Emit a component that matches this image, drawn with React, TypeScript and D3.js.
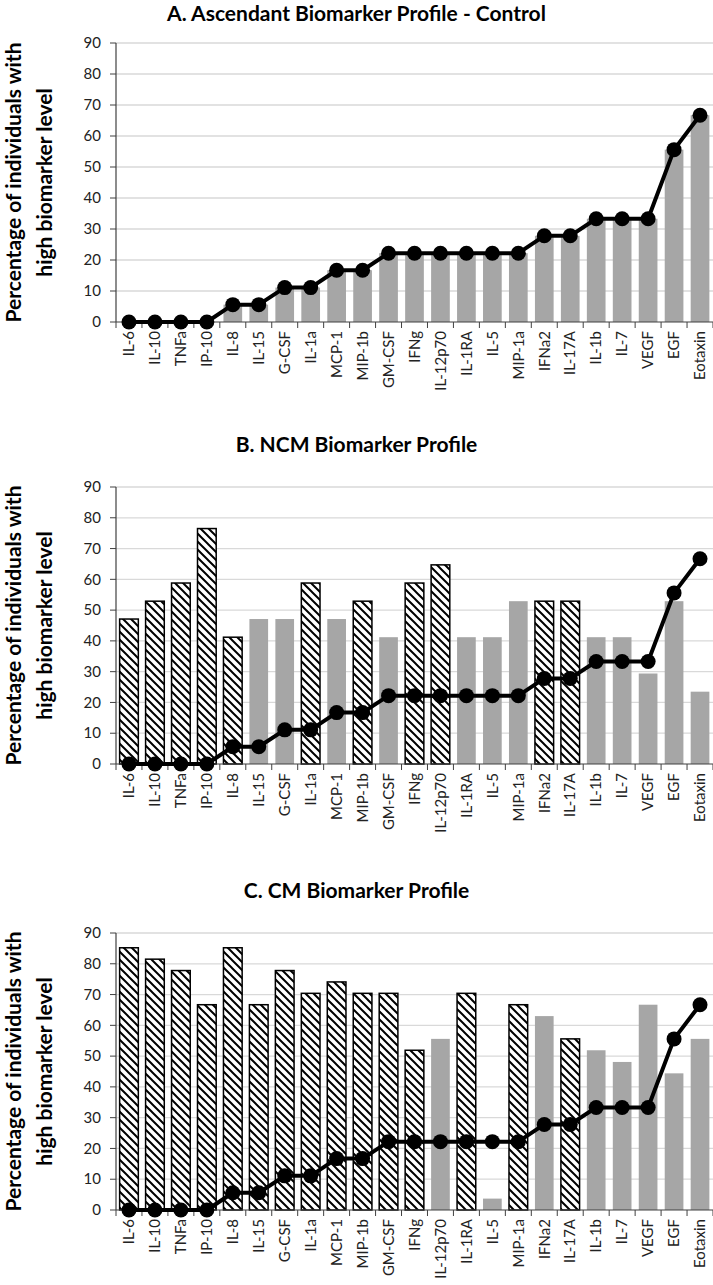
import React from "react";
import * as d3 from "d3";

const categories = ["IL-6","IL-10","TNFa","IP-10","IL-8","IL-15","G-CSF","IL-1a","MCP-1","MIP-1b","GM-CSF","IFNg","IL-12p70","IL-1RA","IL-5","MIP-1a","IFNa2","IL-17A","IL-1b","IL-7","VEGF","EGF","Eotaxin"];
const controlValues = [0,0,0,0,5.6,5.6,11.1,11.1,16.7,16.7,22.2,22.2,22.2,22.2,22.2,22.2,27.8,27.8,33.3,33.3,33.3,55.6,66.7];
const ncmValues = [47.1,52.9,58.8,76.5,41.2,47.1,47.1,58.8,47.1,52.9,41.2,58.8,64.7,41.2,41.2,52.9,52.9,52.9,41.2,41.2,29.4,52.9,23.5];
const ncmHatched = ["IL-6","IL-10","TNFa","IP-10","IL-8","IL-1a","MIP-1b","IFNg","IL-12p70","IFNa2","IL-17A"];
const cmValues = [85.2,81.5,77.8,66.7,85.2,66.7,77.8,70.4,74.1,70.4,70.4,51.9,55.6,70.4,3.7,66.7,63.0,55.6,51.9,48.1,66.7,44.4,55.6];
const cmHatched = ["IL-6","IL-10","TNFa","IP-10","IL-8","IL-15","G-CSF","IL-1a","MCP-1","MIP-1b","GM-CSF","IFNg","IL-1RA","MIP-1a","IL-17A"];
const yTicks = [0,10,20,30,40,50,60,70,80,90];
const titles = ["A. Ascendant Biomarker Profile - Control","B. NCM Biomarker Profile","C. CM Biomarker Profile"];
const yTitleLines = ["Percentage of individuals with","high biomarker level"];

const W = 713, H = 1285;
const panels = [
  { title: titles[0], values: controlValues, hatched: [] as string[], top: 43, bottom: 322, titleY: 21 },
  { title: titles[1], values: ncmValues, hatched: ncmHatched, top: 487, bottom: 764, titleY: 452 },
  { title: titles[2], values: cmValues, hatched: cmHatched, top: 933, bottom: 1210, titleY: 898 },
];

const FONT = "Lato, 'Open Sans', sans-serif";

function Panel({ p }: { p: typeof panels[0] }) {
  const x = d3.scaleBand<string>().domain(categories).range([116, 713]).paddingInner(0.28).paddingOuter(0.14);
  const y = d3.scaleLinear().domain([0, 90]).range([p.bottom, p.top]);
  const step = x.step();
  const xStart = 116;
  const cx = (c: string) => (x(c) as number) + x.bandwidth() / 2;
  const line = d3.line<number>().x((_, i) => cx(categories[i])).y((v) => y(v));
  const midY = (p.top + p.bottom) / 2;
  return (
    <g>
      <text x={W / 2} y={p.titleY} textAnchor="middle" fontFamily={FONT} fontWeight="bold" fontSize={21} fill="#000">{p.title}</text>
      {yTicks.filter((t) => t > 0).map((t) => (
        <line key={t} x1={xStart} x2={W} y1={y(t)} y2={y(t)} stroke="#d9d9d9" strokeWidth={1.3} />
      ))}
      {yTicks.map((t) => (
        <g key={"yt" + t}>
          <line x1={xStart - 6} x2={xStart} y1={y(t)} y2={y(t)} stroke="#404040" strokeWidth={1} />
          <text x={xStart - 15} y={y(t)} dy="0.35em" textAnchor="end" fontFamily={FONT} fontSize={15} fill="#222">{t}</text>
        </g>
      ))}
      {yTitleLines.map((s, i) => (
        <text key={s} transform={`translate(${i === 0 ? 21 : 52},${midY}) rotate(-90)`} textAnchor="middle" fontFamily={FONT} fontWeight="bold" fontSize={21} fill="#000">{s}</text>
      ))}
      {categories.map((c, i) => {
        const v = p.values[i];
        if (v <= 0) return null;
        const hatched = p.hatched.includes(c);
        return (
          <rect key={c} x={x(c)} y={y(v)} width={x.bandwidth()} height={y(0) - y(v)}
            fill={hatched ? "url(#hatch)" : "#a6a6a6"} stroke={hatched ? "#000" : "none"} strokeWidth={1.5} />
        );
      })}
      <line x1={xStart} x2={xStart} y1={p.top} y2={p.bottom} stroke="#404040" strokeWidth={1.2} />
      <line x1={xStart} x2={W} y1={p.bottom} y2={p.bottom} stroke="#404040" strokeWidth={1.2} />
      {d3.range(categories.length + 1).map((i) => (
        <line key={"xt" + i} x1={xStart + i * step} x2={xStart + i * step} y1={p.bottom} y2={p.bottom + 6} stroke="#404040" strokeWidth={1} />
      ))}
      {categories.map((c) => (
        <text key={"xl" + c} transform={`translate(${cx(c)},${p.bottom + 9}) rotate(-90)`} dy="0.35em" textAnchor="end" fontFamily={FONT} fontSize={15} fill="#222">{c}</text>
      ))}
      <path d={line(controlValues) as string} fill="none" stroke="#000" strokeWidth={4} strokeLinejoin="round" />
      {controlValues.map((v, i) => (
        <circle key={"d" + i} cx={cx(categories[i])} cy={y(v)} r={7.5} fill="#000" />
      ))}
    </g>
  );
}

export default function App() {
  return (
    <svg width={W} height={H} style={{ position: "absolute", left: 0, top: 0, background: "#fff" }}>
      <defs>
        <pattern id="hatch" patternUnits="userSpaceOnUse" width={8} height={8}>
          <rect width={8} height={8} fill="#fff" />
          <path d="M-2,-2 L10,10 M-2,6 L2,10 M6,-2 L10,2" stroke="#000" strokeWidth={2} />
        </pattern>
      </defs>
      <rect width={W} height={H} fill="#fff" />
      {panels.map((p, i) => <Panel key={i} p={p} />)}
    </svg>
  );
}
